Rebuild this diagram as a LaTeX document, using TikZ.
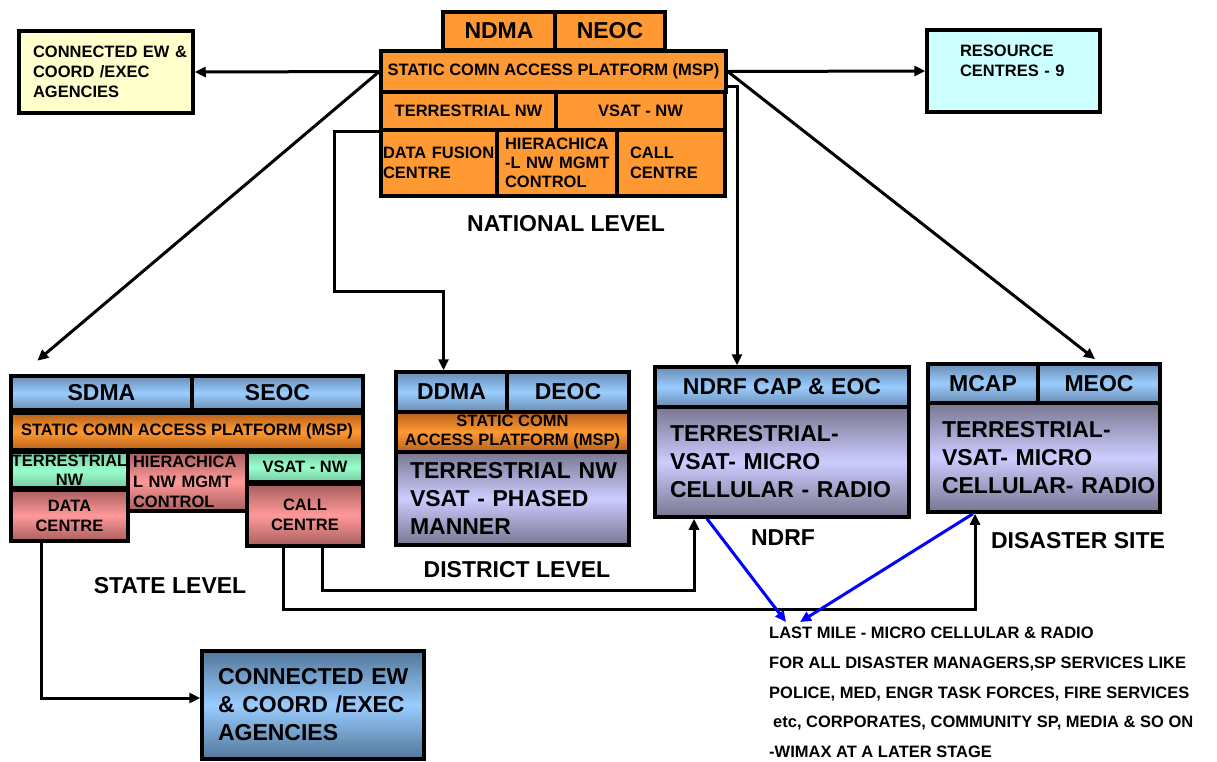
\documentclass[tikz,border=0pt]{standalone}
\usepackage{fontspec}
\setmainfont{Liberation Sans}
\usetikzlibrary{arrows.meta,calc}
\uchyph=0
\hyphenpenalty=10000
\exhyphenpenalty=10000
\definecolor{natorange}{HTML}{FF9933}
\definecolor{orgdk}{HTML}{B8601A}
\definecolor{yellowbox}{HTML}{FFFFCC}
\definecolor{cyanbox}{HTML}{CCFFFF}
\definecolor{hdblue}{HTML}{99CCFF}
\definecolor{hdbluedk}{HTML}{6A8CB2}
\definecolor{lav}{HTML}{CCCCFF}
\definecolor{lavdk}{HTML}{787690}
\definecolor{stgreen}{HTML}{99FFCC}
\definecolor{stgreendk}{HTML}{78C8A0}
\definecolor{stpink}{HTML}{FF9999}
\definecolor{stpinkdk}{HTML}{A85E5E}
\definecolor{agbluedk}{HTML}{52779A}
\newcommand{\fntbig}{\fontsize{23}{28}\selectfont\bfseries}
\newcommand{\fntsml}{\fontsize{16.5}{20}\selectfont\bfseries}
\newcommand{\fntlbl}{\fontsize{23}{27}\selectfont\bfseries}
\newcommand{\fntlast}{\fontsize{16.5}{29.75}\selectfont\bfseries}
\tikzset{
  cellbox/.style={draw, line width=3.5pt, inner sep=0pt, align=center},
  natbox/.style={cellbox, fill=natorange},
  hdrbox/.style={cellbox, top color=hdbluedk, bottom color=hdbluedk, middle color=hdblue},
  mspbox/.style={cellbox, top color=orgdk, bottom color=orgdk, middle color=natorange},
  lavbox/.style={cellbox, top color=lavdk, bottom color=lavdk, middle color=lav},
  grnbox/.style={cellbox, top color=stgreendk, bottom color=stgreendk, middle color=stgreen},
  pnkbox/.style={cellbox, top color=stpinkdk, bottom color=stpinkdk, middle color=stpink},
  lvlabel/.style={font=\fntlbl},
  conn/.style={line width=3pt, -{Triangle[length=11pt,width=10pt]}},
  blueconn/.style={line width=3pt, blue, -{Triangle[length=11pt,width=10pt]}}
}
\begin{document}
\begin{tikzpicture}[x=1pt,y=-1pt]
\useasboundingbox (0,0) rectangle (1217,761);
\node[natbox, minimum width=112pt, minimum height=38pt, font=\fntbig] (ndma) at (499,31) {NDMA};
\node[natbox, minimum width=110pt, minimum height=38pt, font=\fntbig] (neoc) at (610,31) {NEOC};
\node[natbox, minimum width=345pt, minimum height=41pt, font=\fntsml] (nmsp) at (553.5,71.5) {STATIC COMN ACCESS PLATFORM (MSP)};
\node[natbox, minimum width=175pt, minimum height=38pt, font=\fntsml] (nterr) at (468.5,111) {TERRESTRIAL NW};
\node[natbox, minimum width=169pt, minimum height=38pt, font=\fntsml] (nvsat) at (640.5,111) {VSAT - NW};
\node[natbox, minimum width=116pt, minimum height=66pt, font=\fntsml, align=left, text width=112pt, inner xsep=2pt] (ndfc) at (439,163) {DATA~FUSION\\CENTRE};
\node[natbox, minimum width=120pt, minimum height=66pt, font=\fontsize{16.5}{19}\selectfont\bfseries, align=left, text width=104pt, inner xsep=8pt] (nhier) at (557,163) {HIERACHICA\\\mbox{-L}~NW~MGMT\\CONTROL};
\node[natbox, minimum width=108pt, minimum height=66pt, font=\fntsml, align=left, text width=82pt, inner xsep=13pt] (ncall) at (671,163) {CALL\\CENTRE};
\node[lvlabel] (natlbl) at (566,224) {NATIONAL LEVEL};
\node[cellbox, fill=yellowbox, minimum width=174pt, minimum height=82pt, font=\fntsml, align=left, text width=146pt, inner xsep=14pt] (ewtop) at (106,72) {CONNECTED~EW~\&\\COORD~/EXEC\\AGENCIES};
\node[cellbox, fill=cyanbox, minimum width=173pt, minimum height=82pt, font=\fntsml, align=left, text width=107pt, inner xsep=33pt] (rescen) at (1013.5,71) {RESOURCE\\CENTRES~-~9\\\mbox{}};
\draw[conn](nmsp.west) -- (ewtop.east);
\draw[conn](nmsp.east) -- (rescen.west);
\node[hdrbox, minimum width=181pt, minimum height=34pt, font=\fntbig] (sdma) at (101.5,393) {SDMA};
\node[hdrbox, minimum width=171pt, minimum height=34pt, font=\fntbig] (seoc) at (277.5,393) {SEOC};
\node[mspbox, minimum width=352pt, minimum height=37pt, font=\fntsml] (smsp) at (187,431.5) {STATIC COMN ACCESS PLATFORM (MSP)};
\node[grnbox, minimum width=117pt, minimum height=36pt, font=\fontsize{16.5}{19}\selectfont\bfseries] (sterr) at (69.5,470) {TERRESTRIAL\\NW};
\node[pnkbox, minimum width=119pt, minimum height=59pt, font=\fntsml, align=left, text width=109pt, inner xsep=5pt] (shier) at (187.5,481.5) {HIERACHICA\\L~NW~MGMT\\CONTROL};
\node[grnbox, minimum width=116pt, minimum height=30pt, font=\fntsml] (svsat) at (305,467) {VSAT - NW};
\node[pnkbox, minimum width=117pt, minimum height=51pt, font=\fntsml] (sdata) at (69.5,515.5) {DATA\\CENTRE};
\node[pnkbox, minimum width=116pt, minimum height=62pt, font=\fntsml] (scall) at (305,515) {CALL\\CENTRE};
\node[lvlabel] (statelbl) at (170,586) {STATE LEVEL};
\draw[conn, shorten >=21pt](nmsp.west) -- ($(sdma.north west)+(12,0)$);
\node[hdrbox, minimum width=111pt, minimum height=40pt, font=\fntbig] (ddma) at (451.5,392) {DDMA};
\node[hdrbox, minimum width=122pt, minimum height=40pt, font=\fntbig] (deoc) at (568,392) {DEOC};
\node[mspbox, minimum width=233pt, minimum height=40pt, font=\fontsize{16.5}{19}\selectfont\bfseries] (dmsp) at (512.5,432) {STATIC COMN\\ACCESS PLATFORM (MSP)};
\node[lavbox, minimum width=233pt, minimum height=93pt, font=\fntbig, align=left, text width=205pt, inner xsep=14pt] (dbody) at (512.5,498.5) {TERRESTRIAL~NW\\VSAT~-~PHASED\\MANNER};
\node[lvlabel] (distlbl) at (517,570) {DISTRICT LEVEL};
\draw[conn]([yshift=-3pt]ndfc.north west) -- ++(-45,0) -- ++(0,160) -| ([xshift=-8pt]ddma.north);
\node[hdrbox, minimum width=254pt, minimum height=40pt, font=\fntbig] (nrhead) at (782,387) {NDRF CAP \& EOC};
\node[lavbox, minimum width=254pt, minimum height=110pt, font=\fntbig, align=left, text width=224pt, inner xsep=15pt] (nrbody) at (782,462) {TERRESTRIAL-\\VSAT-~MICRO\\CELLULAR~-~RADIO};
\node[lvlabel] (ndrflbl) at (783,538) {NDRF};
\draw[conn]([yshift=-15pt]nmsp.east) -| ([xshift=-45pt]nrhead.north);
\node[hdrbox, minimum width=110pt, minimum height=39pt, font=\fntbig] (mcap) at (983,383.5) {MCAP};
\node[hdrbox, minimum width=122pt, minimum height=39pt, font=\fntbig] (meoc) at (1099,383.5) {MEOC};
\node[lavbox, minimum width=232pt, minimum height=109pt, font=\fntbig, align=left, text width=204pt, inner xsep=14pt] (msbody) at (1044,457.5) {TERRESTRIAL-\\VSAT-~MICRO\\\mbox{CELLULAR-~RADIO}};
\node[lvlabel] (sitelbl) at (1078,541) {DISASTER SITE};
\draw[conn, shorten >=5pt](nmsp.east) -- (meoc.north);
\node[cellbox, top color=agbluedk, bottom color=agbluedk, middle color=hdblue, minimum width=222pt, minimum height=108pt, font=\fntbig, align=left, text width=190pt, inner xsep=16pt] (ewbot) at (313,705) {CONNECTED~EW\\\&~COORD~/EXEC\\AGENCIES};
\node[font=\fntlast, align=left, anchor=north west, inner sep=0pt] (lastmile) at (769,627) {LAST MILE - MICRO CELLULAR \& RADIO\\FOR ALL DISASTER MANAGERS,SP SERVICES LIKE\\POLICE, MED, ENGR TASK FORCES, FIRE SERVICES\\\hspace*{4pt}etc, CORPORATES, COMMUNITY SP, MEDIA \& SO ON\\-WIMAX AT A LATER STAGE};
\draw[conn]([xshift=17pt]scall.south) -- ++(0,43) -| ([xshift=-88pt]nrbody.south);
\draw[conn]([xshift=-22pt]scall.south) -- ++(0,62) -| ([xshift=-69pt]msbody.south);
\draw[conn]([xshift=-28.5pt]sdata.south) |- ([yshift=7pt]ewbot.west);
\draw[blueconn]([xshift=-75pt]nrbody.south) -- ([xshift=17pt,yshift=5pt]lastmile.north west);
\draw[blueconn]([xshift=-71pt]msbody.south) -- ([xshift=31pt,yshift=5pt]lastmile.north west);
\end{tikzpicture}
\end{document}
